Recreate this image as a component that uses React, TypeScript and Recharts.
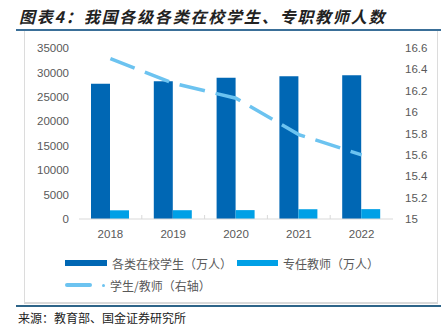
import React from "react";
import { Bar, ComposedChart, Line, XAxis, YAxis } from "recharts";

const years = ["2018", "2019", "2020", "2021", "2022"];
const students = [27700, 28200, 28900, 29200, 29400];
const teachers = [1780, 1800, 1820, 2000, 2020];
const ratio = [16.5, 16.27, 16.13, 15.79, 15.6];

const leftTicks = [0, 5000, 10000, 15000, 20000, 25000, 30000, 35000];
const rightTicks = [15, 15.2, 15.4, 15.6, 15.8, 16, 16.2, 16.4, 16.6];

const data = years.map((y, i) => ({
  year: y,
  students: students[i],
  teachers: teachers[i],
  ratio: ratio[i],
}));

const DARK = "#0067b4";
const MID = "#00a0e6";
const LIGHT = "#6cc3f0";
const TXT = "#595959";
const FONT = "'Noto Sans CJK SC', 'Liberation Sans', sans-serif";

function XTick(props: any) {
  const { x, y, payload, index } = props;
  const half = 31.4;
  const base = y - 8;
  return (
    <g>
      <text x={x} y={y + 3} dy="0.71em" textAnchor="middle" fill={TXT} fontSize={11.5} fontFamily="'Liberation Sans', Arial">
        {payload.value}
      </text>
      {index > 0 && <line x1={x - half} x2={x - half} y1={base} y2={base - 4} stroke="#d9d9d9" />}
    </g>
  );
}

function LegendBox() {
  const item = (swatch: React.ReactNode, label: string, left: number, top: number) => (
    <div style={{ position: "absolute", left, top, display: "flex", alignItems: "center", height: 14 }}>
      {swatch}
      <span style={{ fontSize: 12, color: TXT, fontFamily: FONT, marginLeft: 5, whiteSpace: "nowrap" }}>{label}</span>
    </div>
  );
  return (
    <div style={{ position: "absolute", left: 0, top: 256, width: 441, height: 40 }}>
      {item(<div style={{ width: 42, height: 6, background: DARK }} />, "各类在校学生（万人）", 65, 0)}
      {item(<div style={{ width: 41, height: 6, background: MID }} />, "专任教师（万人）", 237, 0)}
      {item(
        <div style={{ display: "flex", alignItems: "center" }}>
          <div style={{ width: 27, height: 3.5, borderRadius: 2, background: LIGHT }} />
          <div style={{ width: 3, height: 3, borderRadius: 2, background: LIGHT, marginLeft: 10 }} />
        </div>,
        "学生/教师（右轴）",
        65,
        22
      )}
    </div>
  );
}

export default function App() {
  return (
    <div style={{ position: "absolute", left: 0, top: 0, width: 441, height: 327, background: "#fff", overflow: "hidden" }}>
      <div
        style={{
          position: "absolute",
          left: 19,
          top: 4,
          fontSize: 16,
          fontWeight: "bold",
          fontStyle: "italic",
          letterSpacing: 1.8,
          color: "#222",
          fontFamily: FONT,
          whiteSpace: "nowrap",
        }}
      >
        图表4：我国各级各类在校学生、专职教师人数
      </div>
      <div style={{ position: "absolute", left: 16, top: 29, width: 425, height: 2, background: "#3a6f98" }} />
      <div
        style={{
          position: "absolute",
          left: 24,
          top: 31,
          width: 412,
          height: 271,
          borderLeft: "1px solid #dcdcdc",
          borderRight: "1px solid #dcdcdc",
          borderBottom: "2px solid #d9d9d9",
        }}
      />
      <div style={{ position: "absolute", left: 16, top: 305, width: 425, height: 2, background: "#2d6488" }} />
      <div style={{ position: "absolute", left: 18, top: 309, fontSize: 12, color: "#222", fontFamily: FONT, whiteSpace: "nowrap" }}>
        来源：教育部、国金证券研究所
      </div>
      <div style={{ position: "absolute", left: 0, top: 0 }}>
        <ComposedChart
          width={441}
          height={249}
          data={data}
          margin={{ top: 48, right: 0, left: 0, bottom: 0 }}
          barGap={0}
        >
          <XAxis
            dataKey="year"
            axisLine={{ stroke: "#d9d9d9" }}
            tickLine={false}
            tick={<XTick />}
            height={30}
            interval={0}
          />
          <YAxis
            yAxisId="left"
            orientation="left"
            width={79}
            domain={[0, 35000]}
            ticks={leftTicks}
            axisLine={false}
            tickLine={false}
            tickMargin={4}
            interval={0}
            tick={{ fill: TXT, fontSize: 11.5, fontFamily: "'Liberation Sans', Arial" }}
          />
          <YAxis
            yAxisId="right"
            orientation="right"
            width={48}
            domain={[15, 16.6]}
            ticks={rightTicks}
            axisLine={false}
            tickLine={false}
            tickMargin={6}
            interval={0}
            tickFormatter={(v: number) => String(Number(Number(v).toFixed(1)))}
            tick={{ fill: TXT, fontSize: 11.5, fontFamily: "'Liberation Sans', Arial", textAnchor: "start" }}
          />
          <Bar yAxisId="left" dataKey="students" fill={DARK} barSize={19} isAnimationActive={false} />
          <Bar yAxisId="left" dataKey="teachers" fill={MID} barSize={19} isAnimationActive={false} />
          <Line
            yAxisId="right"
            dataKey="ratio"
            type="linear"
            stroke={LIGHT}
            strokeWidth={3.5}
            strokeDasharray="26 11"
            dot={false}
            isAnimationActive={false}
          />
        </ComposedChart>
      </div>
      <LegendBox />
    </div>
  );
}
